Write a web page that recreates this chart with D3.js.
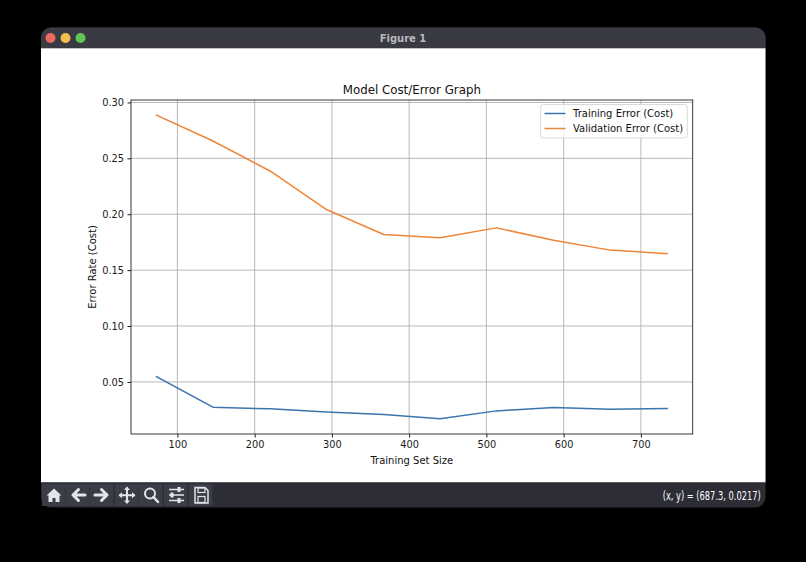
<!DOCTYPE html>
<html><head><meta charset="utf-8">
<script src="https://cdn.jsdelivr.net/npm/d3@7/dist/d3.min.js"></script>
<style>
html,body{margin:0;padding:0;background:#000;}
svg{display:block;}
text{font-family:"DejaVu Sans",sans-serif;}
</style></head>
<body>
<svg id="c" width="806" height="562"></svg>
<script>
const trainSizes = [73, 146, 220, 293, 367, 440, 513, 587, 660, 734];
const trainErr = [0.0547, 0.0274, 0.0259, 0.0230, 0.0208, 0.0170, 0.0241, 0.0271, 0.0256, 0.0262];
const valErr = [0.2886, 0.2655, 0.2387, 0.2042, 0.1819, 0.1789, 0.1878, 0.1768, 0.1679, 0.1646];
const xTicks = [100, 200, 300, 400, 500, 600, 700];
const yTicks = [0.05, 0.10, 0.15, 0.20, 0.25, 0.30];
const seriesNames = ["Training Error (Cost)", "Validation Error (Cost)"];
const seriesColors = ["#3b75b0", "#ef8536"];
const chartTitle = "Model Cost/Error Graph";
const xLabel = "Training Set Size";
const yLabel = "Error Rate (Cost)";
const statusText = "(x, y) = (687.3, 0.0217)";

const svg = d3.select("#c");
// window frame
const W = {x:41, y:27.5, w:724.5, h:480};
svg.append("rect").attr("x",W.x).attr("y",W.y).attr("width",W.w).attr("height",W.h).attr("rx",10).attr("fill","#2c2d35");
svg.append("rect").attr("x",W.x).attr("y",W.y).attr("width",W.w).attr("height",22).attr("rx",10).attr("fill","#393a42");
svg.append("rect").attr("x",W.x).attr("y",W.y+12).attr("width",W.w).attr("height",9).attr("fill","#393a42");
svg.append("rect").attr("x",W.x).attr("y",48.3).attr("width",W.w).attr("height",434).attr("fill","#ffffff");
svg.append("line").attr("x1",W.x).attr("x2",W.x+W.w).attr("y1",482.5).attr("y2",482.5).attr("stroke","#5a5c66").attr("stroke-width",1);
[["#ed6a5e",50.5],["#f5bf4f",65.5],["#61c554",80.5]].forEach(([c,cx])=>{
  svg.append("circle").attr("cx",cx).attr("cy",38).attr("r",5).attr("fill",c);
});
svg.append("text").attr("x",403).attr("y",41.5).attr("text-anchor","middle").attr("fill","#b8b9be").attr("font-size",10).attr("font-weight","bold").attr("font-family","Inter, 'DejaVu Sans', sans-serif").text("Figure 1");

// toolbar buttons
const btnX = [42, 66, 90, 115, 139, 164, 189];
btnX.forEach(bx=>{
  svg.append("rect").attr("x",bx).attr("y",484).attr("width",23.5).attr("height",22).attr("fill","#3a3c46");
});
const ic = svg.append("g").attr("fill","#e4e5ea").attr("stroke","#e4e5ea");
// home
ic.append("path").attr("d","M46.5,495.5 L54,488.5 L61.5,495.5 L59.5,495.5 L59.5,502 L55.5,502 L55.5,498 L52.5,498 L52.5,502 L48.5,502 L48.5,495.5 Z").attr("stroke","none");
// left arrow
ic.append("path").attr("d","M85,495 L73,495 M78.5,489.5 L73,495 L78.5,500.5").attr("fill","none").attr("stroke-width",3).attr("stroke-linecap","round").attr("stroke-linejoin","round");
// right arrow
ic.append("path").attr("d","M95,495 L107,495 M101.5,489.5 L107,495 L101.5,500.5").attr("fill","none").attr("stroke-width",3).attr("stroke-linecap","round").attr("stroke-linejoin","round");
// move
ic.append("path").attr("d","M127,487.5 L127,503 M119.5,495.2 L134.5,495.2").attr("fill","none").attr("stroke-width",2);
ic.append("path").attr("d","M127,486.5 L124,490 L130,490 Z M127,504 L124,500.5 L130,500.5 Z M118.5,495.2 L122,492.2 L122,498.2 Z M135.5,495.2 L132,492.2 L132,498.2 Z").attr("stroke","none");
// zoom
ic.append("circle").attr("cx",150).attr("cy",493.5).attr("r",5).attr("fill","none").attr("stroke-width",2);
ic.append("path").attr("d","M153.5,497 L158,502").attr("stroke-width",2.5).attr("stroke-linecap","round");
// sliders
[489.5,495,500.5].forEach((yy,i)=>{
  ic.append("line").attr("x1",169).attr("x2",184).attr("y1",yy).attr("y2",yy).attr("stroke-width",1.5);
  const kx=[179,172,179][i];
  ic.append("rect").attr("x",kx-1.5).attr("y",yy-2.5).attr("width",3).attr("height",5).attr("stroke","none");
});
// save
ic.append("path").attr("d","M195,487.5 L205,487.5 L208,490.5 L208,503 L195,503 Z").attr("fill","none").attr("stroke-width",1.5);
ic.append("rect").attr("x",198).attr("y",488).attr("width",7).attr("height",4.5).attr("fill","none").attr("stroke-width",1.2);
ic.append("rect").attr("x",198).attr("y",496.5).attr("width",7).attr("height",6).attr("fill","none").attr("stroke-width",1.2);

svg.append("text").attr("x",662.7).attr("y",500).attr("textLength",98).attr("lengthAdjust","spacingAndGlyphs").attr("fill","#ffffff").attr("font-size",12).attr("font-family","Inter, 'DejaVu Sans', sans-serif").text(statusText);

// chart
const P = {l:131, r:692.7, t:100, b:434};
const xExt = d3.extent(trainSizes);
const xm = (xExt[1]-xExt[0])*0.05;
const x = d3.scaleLinear().domain([xExt[0]-xm, xExt[1]+xm]).range([P.l, P.r]);
const allY = trainErr.concat(valErr);
const yExt = d3.extent(allY);
const ym = (yExt[1]-yExt[0])*0.05;
const y = d3.scaleLinear().domain([yExt[0]-ym, yExt[1]+ym]).range([P.b, P.t]);

const g = svg.append("g");
// grid
g.append("g").selectAll("line").data(xTicks).join("line")
  .attr("x1",d=>x(d)).attr("x2",d=>x(d)).attr("y1",P.t).attr("y2",P.b)
  .attr("stroke","#b0b0b0").attr("stroke-width",0.9);
g.append("g").selectAll("line").data(yTicks).join("line")
  .attr("x1",P.l).attr("x2",P.r).attr("y1",d=>y(d)).attr("y2",d=>y(d))
  .attr("stroke","#b0b0b0").attr("stroke-width",0.9);

// axes
const xAxis = d3.axisBottom(x).tickValues(xTicks).tickSize(3.5).tickPadding(3.5).tickFormat(d3.format("d"));
const yAxis = d3.axisLeft(y).tickValues(yTicks).tickSize(3.5).tickPadding(3.5).tickFormat(d3.format(".2f"));
const gx = g.append("g").attr("transform",`translate(0,${P.b})`).call(xAxis);
const gy = g.append("g").attr("transform",`translate(${P.l},0)`).call(yAxis);
[gx,gy].forEach(a=>{
  a.select(".domain").remove();
  a.selectAll(".tick line").attr("stroke","#000").attr("stroke-width",0.9);
  a.selectAll(".tick text").attr("fill","#1a1a1a").attr("font-size",9.8).attr("font-family","'DejaVu Sans',sans-serif");
});

// lines
const series = [trainErr, valErr];
series.forEach((vals,i)=>{
  const line = d3.line().x((d,j)=>x(trainSizes[j])).y(d=>y(d));
  g.append("path").datum(vals).attr("d",line).attr("fill","none")
    .attr("stroke",seriesColors[i]).attr("stroke-width",1.5).attr("stroke-linejoin","round").attr("stroke-linecap","square");
});

// frame
g.append("rect").attr("x",P.l).attr("y",P.t).attr("width",P.r-P.l).attr("height",P.b-P.t)
  .attr("fill","none").attr("stroke","#222").attr("stroke-width",0.9);

// titles
svg.append("text").attr("x",(P.l+P.r)/2).attr("y",93.5).attr("text-anchor","middle").attr("font-size",11.8).attr("fill","#111").text(chartTitle);
svg.append("text").attr("x",(P.l+P.r)/2).attr("y",463.5).attr("text-anchor","middle").attr("font-size",10).attr("fill","#111").text(xLabel);
svg.append("text").attr("transform",`translate(95.5,${(P.t+P.b)/2}) rotate(-90)`).attr("text-anchor","middle").attr("font-size",10).attr("fill","#111").text(yLabel);

// legend
const L = {x:540.7, y:104.5, w:146.6, h:33.5};
svg.append("rect").attr("x",L.x).attr("y",L.y).attr("width",L.w).attr("height",L.h).attr("rx",2.5)
  .attr("fill","#fff").attr("fill-opacity",0.8).attr("stroke","#d6d6d6").attr("stroke-width",0.9);
seriesNames.forEach((n,i)=>{
  const yy = L.y + 9 + i*15;
  svg.append("line").attr("x1",544.5).attr("x2",565.5).attr("y1",yy).attr("y2",yy).attr("stroke",seriesColors[i]).attr("stroke-width",1.5);
  svg.append("text").attr("x",573).attr("y",yy+3.5).attr("font-size",10).attr("fill","#111").text(n);
});
</script>
</body></html>
